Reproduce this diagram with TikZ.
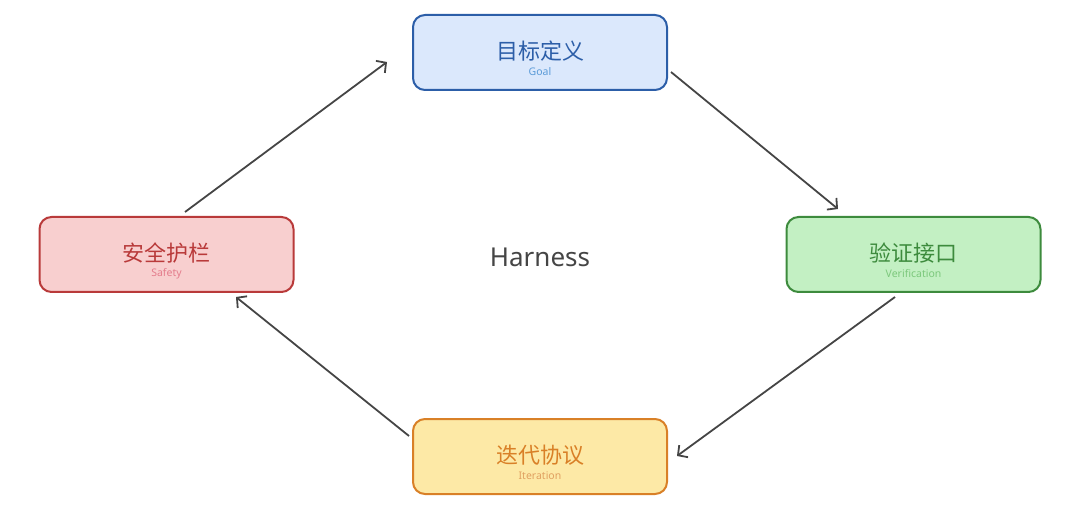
\documentclass[tikz,border=0pt]{standalone}
\usepackage{fontspec}
\setmainfont{Noto Sans}
\newfontfamily\cjk{Noto Sans CJK SC}
\usetikzlibrary{arrows.meta,positioning,calc}
\definecolor{bfill}{HTML}{DBE8FC}\definecolor{bdraw}{HTML}{2C5EA8}\definecolor{bsub}{HTML}{5B9BD8}
\definecolor{rfill}{HTML}{F8CFCF}\definecolor{rdraw}{HTML}{B93A3A}\definecolor{rsub}{HTML}{E47C8C}
\definecolor{gfill}{HTML}{C3F0C3}\definecolor{gdraw}{HTML}{3D8B3D}\definecolor{gsub}{HTML}{7CC87C}
\definecolor{yfill}{HTML}{FDE9A6}\definecolor{ydraw}{HTML}{D98027}\definecolor{ysub}{HTML}{E0A060}
\definecolor{arrc}{HTML}{454545}
\tikzset{
  card/.style={draw, line width=2pt, rounded corners=12pt, minimum width=254pt, minimum height=75pt, inner sep=0pt},
  title/.style={font=\cjk\fontsize{22}{26}\selectfont},
  sub/.style={font=\fontsize{10.5}{12}\selectfont},
  arr/.style={draw=arrc, line width=1.8pt, -{Straight Barb[length=7pt,width=15pt,line width=1.8pt]}},
}
\begin{document}
\begin{tikzpicture}[x=1pt,y=1pt]
\useasboundingbox (0,0) rectangle (1080,515);
\node[card, draw=bdraw, fill=bfill] (goal) at (540,462.5) {};
\node[card, draw=rdraw, fill=rfill] (safe) at (166.5,260.5) {};
\node[card, draw=gdraw, fill=gfill] (ver) at (913.5,260.5) {};
\node[card, draw=ydraw, fill=yfill] (iter) at (540,58.5) {};
\node[title, text=bdraw] (goalt) at ([yshift=1.5]goal.center) {目标定义};
\node[sub, text=bsub] (goals) at ([yshift=-19]goal.center) {Goal};
\node[title, text=rdraw] (safet) at ([yshift=1.5]safe.center) {安全护栏};
\node[sub, text=rsub] (safes) at ([yshift=-19]safe.center) {Safety};
\node[title, text=gdraw] (vert) at ([yshift=1.5]ver.center) {验证接口};
\node[sub, text=gsub] (vers) at ([yshift=-19]ver.center) {Verification};
\node[title, text=ydraw] (itert) at ([yshift=1.5]iter.center) {迭代协议};
\node[sub, text=ysub] (iters) at ([yshift=-19]iter.center) {Iteration};
\node[font=\fontsize{26}{30}\selectfont, text=arrc] (harness) at (540,258) {Harness};
\draw[arr] ([xshift=3,yshift=-19.5]goal.east) -- ([xshift=-75.5,yshift=7]ver.north);
\draw[arr] ([xshift=-18.5,yshift=-4]ver.south) -- ([xshift=9,yshift=0.5]iter.east);
\draw[arr] ([xshift=-3,yshift=20.5]iter.west) -- ([xshift=69.5,yshift=-4]safe.south);
\draw[arr] ([xshift=18.5,yshift=4]safe.north) -- ([xshift=-25,yshift=-9.5]goal.west);
\end{tikzpicture}
\end{document}
